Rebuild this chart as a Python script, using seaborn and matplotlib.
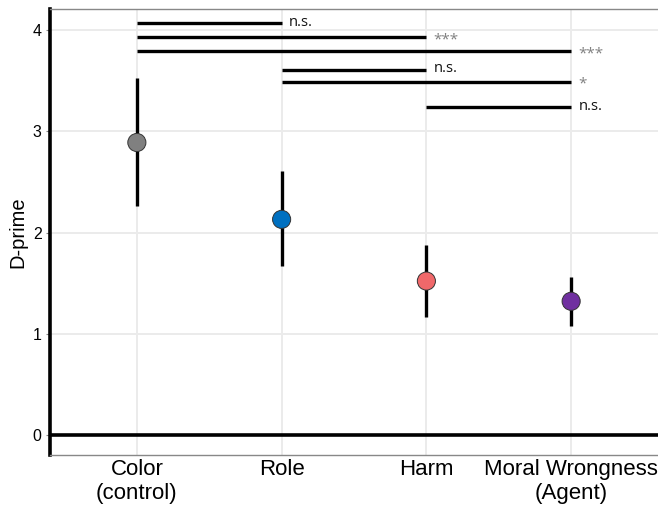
import matplotlib
matplotlib.use("Agg")
import matplotlib.pyplot as plt
import seaborn as sns
import pandas as pd

categories = ["Color\n(control)", "Role", "Harm", "Moral Wrongness\n(Agent)"]
dprime = [2.89, 2.13, 1.52, 1.32]
ci_low = [2.26, 1.67, 1.16, 1.08]
ci_high = [3.53, 2.61, 1.88, 1.56]
colors = ["#808080", "#0070C0", "#F0686A", "#7030A0"]

sig_start = [0, 0, 0, 1, 1, 2]
sig_end = [1, 2, 3, 2, 3, 3]
sig_y = [4.07, 3.93, 3.79, 3.61, 3.49, 3.24]
sig_label = ["n.s.", "***", "***", "n.s.", "*", "n.s."]

df = pd.DataFrame({"cat": categories, "d": dprime, "lo": ci_low, "hi": ci_high})

sns.set_theme(style="white")
plt.rcParams["font.family"] = ["Liberation Sans", "DejaVu Sans"]

fig = plt.figure(figsize=(6.58, 5.09), dpi=100)
ax = fig.add_axes([50 / 658, 54 / 509, 608 / 658, 446 / 509])

ax.set_xlim(-0.6, 3.6)
ax.set_ylim(-0.2, 4.21)
ax.set_yticks([0, 1, 2, 3, 4])
ax.grid(True, color="#EBEBEB", linewidth=1.4)
ax.set_axisbelow(True)

ax.axhline(0, color="black", linewidth=2.6, zorder=2)

x_idx = list(range(len(categories)))
ax.vlines(x_idx, df["lo"], df["hi"], color="black", linewidth=2.4, zorder=3)

sns.scatterplot(data=df, x="cat", y="d", hue="cat", palette=colors, s=170,
                edgecolor="#333333", linewidth=0.7, legend=False, ax=ax, zorder=4)

for a, b, y, lab in zip(sig_start, sig_end, sig_y, sig_label):
    ax.plot([a, b], [y, y], color="black", linewidth=2.4, solid_capstyle="butt", zorder=3)
    if lab == "n.s.":
        ax.text(b + 0.05, y + 0.01, lab, ha="left", va="center", fontsize=10.5,
                family=["Open Sans", "DejaVu Sans"], color="#111111")
    else:
        ax.text(b + 0.05, y - 0.025, lab, ha="left", va="center", fontsize=11,
                family=["Open Sans", "DejaVu Sans"], color="#808080")

ax.set_xlabel("")
ax.set_ylabel("D-prime", fontsize=14.5, color="black", labelpad=4)
ax.tick_params(axis="x", labelsize=16, colors="black", length=0, pad=3)
ax.tick_params(axis="y", labelsize=11.5, colors="black", length=3, width=0.8,
               left=True, pad=3)
ax.tick_params(axis="y", color="#888888")

for side in ["top", "bottom"]:
    ax.spines[side].set_visible(True)
    ax.spines[side].set_color("#888888")
    ax.spines[side].set_linewidth(1.0)
ax.spines["right"].set_visible(False)
ax.spines["left"].set_color("black")
ax.spines["left"].set_linewidth(2.6)

fig.savefig("out.png", dpi=100)
